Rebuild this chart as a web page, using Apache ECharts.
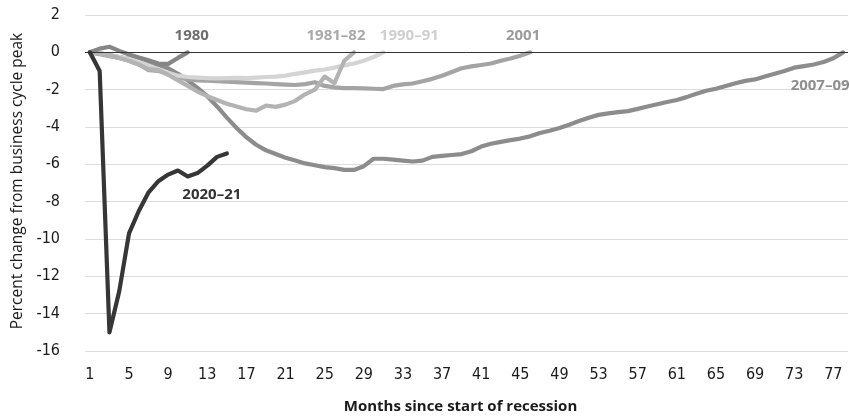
<!DOCTYPE html>
<html>
<head>
<meta charset="utf-8">
<script src="https://cdn.jsdelivr.net/npm/echarts@6/dist/echarts.min.js"></script>
<style>
  html, body { margin: 0; padding: 0; background: #fff; }
  #echarts { width: 850px; height: 419px; }
</style>
</head>
<body>
<div id="echarts"></div>
<script>
// months since start of recession (1..78)
const months = Array.from({ length: 78 }, (_, i) => String(i + 1))

// percent change from business cycle peak
const r1980 = [0, 0.2, 0.3, 0.08, -0.12, -0.28, -0.43, -0.6, -0.62, -0.3, 0]
const r1981 = [0, -0.05, -0.15, -0.3, -0.45, -0.65, -0.9, -0.95, -1.2, -1.5, -1.8, -2.1, -2.35, -2.55,
  -2.75, -2.9, -3.05, -3.12, -2.85, -2.92, -2.8, -2.6, -2.25, -2.0, -1.3, -1.65, -0.45, 0]
const r1990 = [0, -0.05, -0.15, -0.25, -0.35, -0.5, -0.7, -0.9, -1.1, -1.25, -1.32, -1.35, -1.38, -1.4,
  -1.38, -1.37, -1.38, -1.35, -1.32, -1.3, -1.25, -1.15, -1.07, -0.98, -0.92, -0.82, -0.7, -0.6, -0.45, -0.25, 0]
const r2001 = [0, -0.1, -0.2, -0.3, -0.45, -0.65, -0.95, -1.0, -1.15, -1.35, -1.45, -1.5, -1.52, -1.55,
  -1.57, -1.6, -1.62, -1.65, -1.67, -1.7, -1.73, -1.75, -1.7, -1.6, -1.8, -1.88, -1.92, -1.92, -1.93,
  -1.95, -1.97, -1.8, -1.72, -1.67, -1.55, -1.42, -1.25, -1.05, -0.85, -0.75, -0.68, -0.6, -0.45, -0.33, -0.18, 0]
const r2007 = [0, -0.05, -0.15, -0.25, -0.35, -0.45, -0.55, -0.68, -0.85, -1.15, -1.5, -1.9, -2.35, -2.9,
  -3.5, -4.05, -4.55, -4.95, -5.25, -5.45, -5.65, -5.8, -5.95, -6.05, -6.15, -6.2, -6.3, -6.3, -6.1,
  -5.7, -5.7, -5.75, -5.8, -5.85, -5.8, -5.6, -5.55, -5.5, -5.45, -5.3, -5.05, -4.9, -4.8, -4.7, -4.62,
  -4.5, -4.32, -4.2, -4.05, -3.88, -3.68, -3.5, -3.35, -3.27, -3.2, -3.15, -3.03, -2.9, -2.78, -2.66,
  -2.55, -2.4, -2.22, -2.06, -1.95, -1.8, -1.66, -1.53, -1.45, -1.3, -1.15, -1.0, -0.82, -0.74, -0.65,
  -0.52, -0.32, 0]
const r2020 = [0, -1.0, -15.0, -12.8, -9.7, -8.5, -7.5, -6.9, -6.55, -6.33, -6.65, -6.47, -6.07, -5.6, -5.42]

const tickFont = "'Liberation Sans Narrow', 'DejaVu Sans Condensed', sans-serif"
const labelFont = "'Open Sans', sans-serif"

// a label that sits next to the last point of a line
function endTag(data, text, color, offset) {
  const last = data.length - 1
  return {
    silent: true,
    symbol: 'circle',
    symbolSize: 1,
    itemStyle: { color: 'rgba(0,0,0,0)' },
    label: {
      show: true,
      position: 'inside',
      formatter: text,
      offset: offset,
      color: color,
      fontFamily: labelFont,
      fontWeight: 'bold',
      fontSize: 15
    },
    data: [{ coord: [last, data[last]] }]
  }
}

function recession(name, data, color, tagColor, offset) {
  return {
    name: name,
    type: 'line',
    data: data,
    showSymbol: false,
    smooth: false,
    lineStyle: { color: color, width: 4.2, join: 'round', cap: 'round' },
    itemStyle: { color: color },
    markPoint: endTag(data, name, tagColor, offset)
  }
}

const myChart = echarts.init(document.getElementById('echarts'))
myChart.setOption({
  animation: false,
  backgroundColor: '#fff',
  grid: { left: 85, right: 2, top: 15, bottom: 61.5 },
  xAxis: {
    type: 'category',
    data: months,
    boundaryGap: true,
    axisLine: { show: false },
    axisTick: { show: false },
    axisLabel: { interval: 3, margin: 16, color: '#1a1a1a', fontFamily: tickFont, fontSize: 16 },
    name: 'Months since start of recession',
    nameLocation: 'middle',
    nameGap: 48,
    nameTextStyle: { color: '#1a1a1a', fontFamily: labelFont, fontWeight: 'bold', fontSize: 15, padding: [0, 12, 0, 0] }
  },
  yAxis: {
    type: 'value',
    min: -16,
    max: 2,
    interval: 2,
    axisLine: { show: false },
    axisTick: { show: false },
    splitLine: { lineStyle: { color: '#dcdcdc', width: 1 } },
    axisLabel: { margin: 25, color: '#1a1a1a', fontFamily: tickFont, fontSize: 16 },
    name: 'Percent change from business cycle peak',
    nameLocation: 'middle',
    nameRotate: 90,
    nameGap: 54,
    nameTextStyle: { color: '#1a1a1a', fontFamily: labelFont, fontSize: 15.5, padding: [0, 0, 0, 4] }
  },
  series: [
    Object.assign(recession('2007\u201309', r2007, '#8c8c8c', '#8e8e8e', [-23, 33]), {
      markLine: {
        silent: true,
        symbol: 'none',
        label: { show: false },
        lineStyle: { color: '#333', width: 1, type: 'solid' },
        data: [{ yAxis: 0 }]
      }
    }),
    recession('2001', r2001, '#a4a4a4', '#9b9b9b', [-7, -17]),
    recession('1990\u201391', r1990, '#d4d4d4', '#cfcfcf', [26, -17]),
    recession('1981\u201382', r1981, '#b3b3b3', '#a9a9a9', [-18, -17]),
    recession('1980', r1980, '#868686', '#6e6e6e', [4, -17]),
    recession('2020\u201321', r2020, '#363636', '#333333', [-15, 41.5])
  ]
})
</script>
</body>
</html>
